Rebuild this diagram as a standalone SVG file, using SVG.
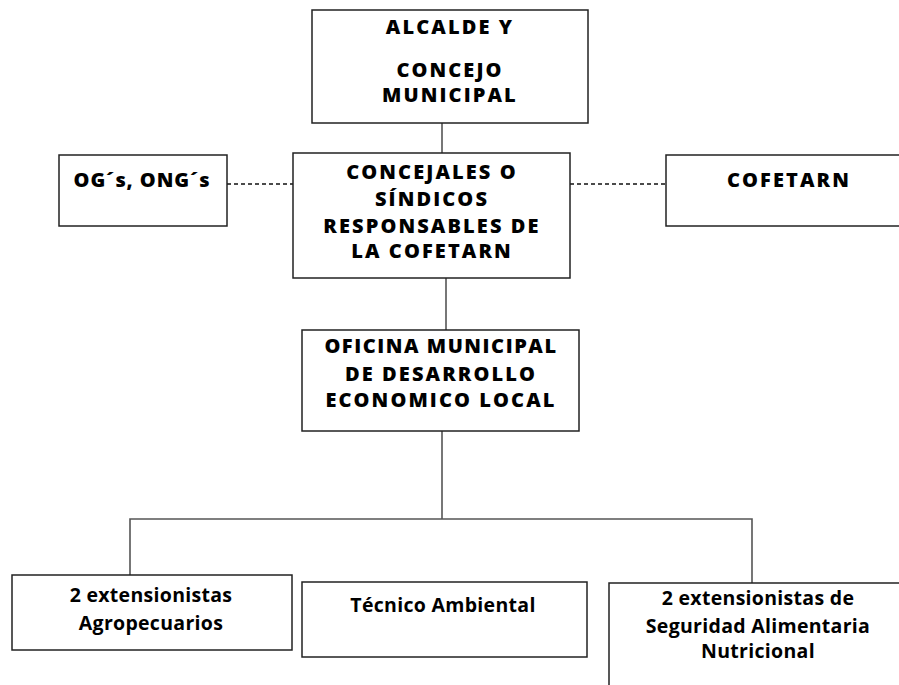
<svg xmlns="http://www.w3.org/2000/svg" width="899" height="685" viewBox="0 0 899 685">
<style>
.box{fill:#fff;stroke:#222;stroke-width:1.5}
.t{font-family:"Open Sans","Liberation Sans",sans-serif;font-weight:bold;fill:#000;text-anchor:middle}
.caps{font-size:20px;font-weight:800;letter-spacing:2.1px}
.low{font-size:19.5px;letter-spacing:0.3px}
.ln{stroke:#555;stroke-width:1.6;fill:none}
.dash{stroke:#111;stroke-width:1.6;stroke-dasharray:4 3;fill:none}
</style>
<rect width="899" height="685" fill="#fff"/>
<g id="connectors">
<line class="ln" x1="442" y1="123" x2="442" y2="153"/>
<line class="dash" x1="227" y1="184" x2="293" y2="184"/>
<line class="dash" x1="570" y1="184" x2="666" y2="184"/>
<line class="ln" x1="446" y1="278" x2="446" y2="330"/>
<line class="ln" x1="442" y1="431" x2="442" y2="519"/>
<polyline class="ln" points="130,576 130,519 752,519 752,583"/>
</g>
<g id="alcalde">
<rect class="box" x="312" y="10" width="276" height="113"/>
<text class="t caps" x="450" y="34">ALCALDE Y</text>
<text class="t caps" x="450" y="77">CONCEJO</text>
<text class="t caps" x="450" y="102">MUNICIPAL</text>
</g>
<g id="ogs">
<rect class="box" x="59" y="155" width="168" height="71"/>
<text class="t caps" x="142" y="187" style="letter-spacing:0.9px">OG´s, ONG´s</text>
</g>
<g id="concejales">
<rect class="box" x="293" y="153" width="277" height="125"/>
<text class="t caps" x="432" y="179">CONCEJALES O</text>
<text class="t caps" x="432" y="206">SÍNDICOS</text>
<text class="t caps" x="432" y="233">RESPONSABLES DE</text>
<text class="t caps" x="432" y="258">LA COFETARN</text>
</g>
<g id="cofetarn">
<rect class="box" x="666" y="155" width="240" height="71"/>
<text class="t caps" x="789" y="187">COFETARN</text>
</g>
<g id="oficina">
<rect class="box" x="302" y="330" width="277" height="101"/>
<text class="t caps" x="441" y="353" style="letter-spacing:1.55px">OFICINA MUNICIPAL</text>
<text class="t caps" x="441" y="381">DE DESARROLLO</text>
<text class="t caps" x="441" y="407">ECONOMICO LOCAL</text>
</g>
<g id="agro">
<rect class="box" x="12" y="575" width="280" height="75"/>
<text class="t low" x="151" y="602">2 extensionistas</text>
<text class="t low" x="151" y="630">Agropecuarios</text>
</g>
<g id="tecnico">
<rect class="box" x="302" y="582" width="285" height="75"/>
<text class="t low" x="443" y="612">Técnico Ambiental</text>
</g>
<g id="seguridad">
<rect class="box" x="609" y="583" width="300" height="120"/>
<text class="t low" x="758" y="605">2 extensionistas de</text>
<text class="t low" x="758" y="633">Seguridad Alimentaria</text>
<text class="t low" x="758" y="658">Nutricional</text>
</g>
</svg>
